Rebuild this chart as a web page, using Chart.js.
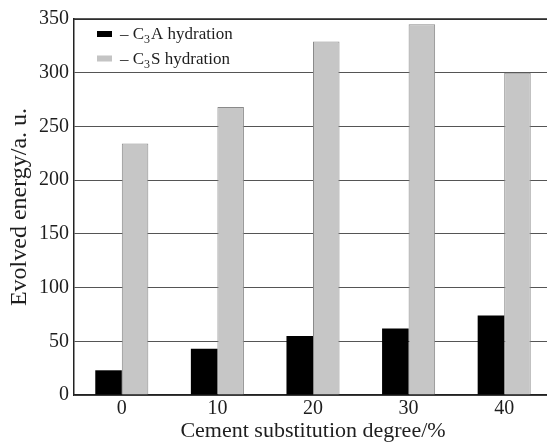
<!DOCTYPE html>
<html>
<head>
<meta charset="utf-8">
<script src="https://cdn.jsdelivr.net/npm/chart.js@4/dist/chart.umd.min.js"></script>
<style>
html,body{margin:0;padding:0;overflow:hidden;background:#fff;width:547px;height:442px;}
#wrap{width:552px;height:442px;}
</style>
</head>
<body>
<div id="wrap"><canvas id="c" width="552" height="442"></canvas></div>
<script>
const categories = ['0', '10', '20', '30', '40'];
const c3aValues = [23, 43, 55, 62, 74];
const c3sValues = [234, 268, 329, 345, 300];
const seriesNames = ['C3A hydration', 'C3S hydration'];
const yMin = 0, yMax = 350, yStep = 50;
const xTitle = 'Cement substitution degree/%';
const yTitle = 'Evolved energy/a. u.';

const SERIF = '"Liberation Serif", "DejaVu Serif", serif';
const TXT = '#1e1e1e';

const legendPlugin = {
  id: 'insideLegend',
  afterDraw(chart) {
    const ctx = chart.ctx;
    const area = chart.chartArea;
    const items = [
      {fill: '#000000', pre: '– C', sub: '3', post: 'A hydration'},
      {fill: '#c4c4c4', pre: '– C', sub: '3', post: 'S hydration'}
    ];
    ctx.save();
    items.forEach((it, i) => {
      const cy = area.top + 15 + i * 24.5;
      const sx = area.left + 23;
      ctx.fillStyle = it.fill;
      ctx.fillRect(sx, cy - 3, 15, 6);
      let x = sx + 23;
      ctx.fillStyle = TXT;
      ctx.textBaseline = 'alphabetic';
      ctx.textAlign = 'left';
      const base = cy + 5;
      ctx.font = '17px ' + SERIF;
      ctx.fillText(it.pre, x, base);
      x += ctx.measureText(it.pre).width;
      ctx.font = '12px ' + SERIF;
      ctx.fillText(it.sub, x, base + 4);
      x += ctx.measureText(it.sub).width + 1;
      ctx.font = '17px ' + SERIF;
      ctx.fillText(it.post, x, base);
    });
    // top border
    ctx.strokeStyle = '#222';
    ctx.lineWidth = 1.5;
    ctx.beginPath();
    ctx.moveTo(area.left, area.top);
    ctx.lineTo(area.right, area.top);
    ctx.stroke();
    ctx.restore();
  }
};

new Chart(document.getElementById('c'), {
  type: 'bar',
  data: {
    labels: categories,
    datasets: [
      {label: seriesNames[0], data: c3aValues, backgroundColor: '#000000', borderColor: '#000000', borderWidth: 0},
      {label: seriesNames[1], data: c3sValues, backgroundColor: '#c6c6c6', borderColor: '#8a8a8a', borderWidth: 1}
    ]
  },
  options: {
    responsive: false,
    animation: false,
    devicePixelRatio: 1,
    layout: {padding: {top: 19, right: 0, left: 0, bottom: 0}},
    plugins: {legend: {display: false}, tooltip: {enabled: false}, title: {display: false}},
    datasets: {bar: {categoryPercentage: 0.555, barPercentage: 1.0}},
    scales: {
      x: {
        type: 'category',
        offset: true,
        grid: {display: false, drawTicks: false},
        border: {display: true, color: '#222', width: 1.5},
        ticks: {color: TXT, font: {family: SERIF, size: 20, lineHeight: 1}, padding: 4, maxRotation: 0},
        title: {display: true, text: xTitle, color: TXT, font: {family: SERIF, size: 22, lineHeight: 1}, padding: {top: 0, bottom: 0}},
        afterFit(s) { s.height = 47; }
      },
      y: {
        min: yMin, max: yMax,
        grid: {color: '#555', lineWidth: 1, drawTicks: false},
        border: {display: true, color: '#222', width: 1.5},
        ticks: {stepSize: yStep, color: TXT, font: {family: SERIF, size: 20}, padding: 5},
        title: {display: true, text: yTitle, color: TXT, font: {family: SERIF, size: 24, lineHeight: 1}, padding: {top: 8, bottom: 0}},
        afterFit(s) { s.width = 74; }
      }
    }
  },
  plugins: [legendPlugin]
});
</script>
</body>
</html>
